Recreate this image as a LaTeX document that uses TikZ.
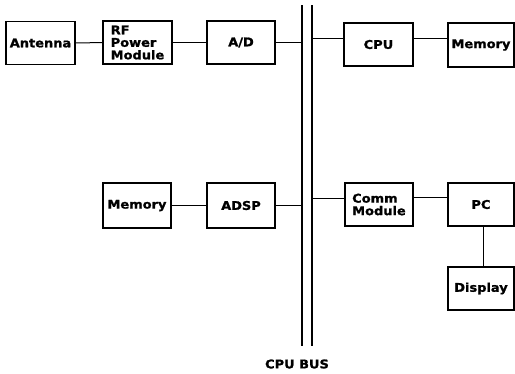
\documentclass[tikz,border=0pt]{standalone}
\usepackage{fontspec}
\newfontfamily\pixfont{DejaVu Sans Bold}[FakeStretch=1.08, FakeBold=1.2]
\begin{document}
\begin{tikzpicture}[x=1pt,y=-1pt,
  blk/.style={draw, line width=1.2pt, inner sep=0pt, minimum width=#1, minimum height=43pt, align=left,
    font=\fontsize{12}{12.5}\pixfont},
  blk/.default=68pt,
  wire/.style={line width=1.0pt}]
\useasboundingbox (0,0) rectangle (515,373);
% blocks
\node[blk=69pt] (ant) at (40.5,43) {Antenna};
\node[blk=69pt] (rf) at (137.5,42.5) {RF\\Power\\Module};
\node[blk] (ad) at (241,42.5) {A/D};
\node[blk=69pt] (cpu) at (378.5,44.5) {CPU};
\node[blk=66pt, minimum height=44pt] (mem1) at (481,45) {Memory};
\node[blk, minimum height=45pt] (mem2) at (137,205.5) {Memory};
\node[blk, minimum height=45pt] (adsp) at (241,205.5) {ADSP};
\node[blk] (comm) at (379,204.5) {Comm\\Module};
\node[blk=66pt] (pc) at (481,204.5) {PC};
\node[blk=66pt] (disp) at (481,288.5) {Display};
% bus
\coordinate (bLt) at (302,5);
\coordinate (bLb) at (302,346);
\coordinate (bRt) at (312,5);
\coordinate (bRb) at (312,346);
\draw[line width=1.4pt] (bLt) -- (bLb);
\draw[line width=1.4pt] (bRt) -- (bRb);
\node[font=\fontsize{12}{13}\pixfont] (bus) at (297,364) {CPU BUS};
% connectors
\draw[wire] (ant) -- (rf);
\draw[wire] (rf) -- (ad);
\draw[wire] (ad.east) -- (ad.east -| bLt);
\draw[wire] ([yshift=6pt]cpu.west -| bRt) -- ([yshift=6pt]cpu.west);
\draw[wire] ([yshift=6pt]cpu.east) -- ([yshift=6pt]cpu.east -| mem1.west);
\draw[wire] (mem2) -- (adsp);
\draw[wire] (adsp.east) -- (adsp.east -| bLt);
\draw[wire] ([yshift=6.5pt]comm.west -| bRt) -- ([yshift=6.5pt]comm.west);
\draw[wire] ([yshift=7pt]comm.east) -- ([yshift=7pt]comm.east -| pc.west);
\draw[wire] ([xshift=2pt]pc.south) -- ([xshift=2pt]disp.north);
\end{tikzpicture}
\end{document}
